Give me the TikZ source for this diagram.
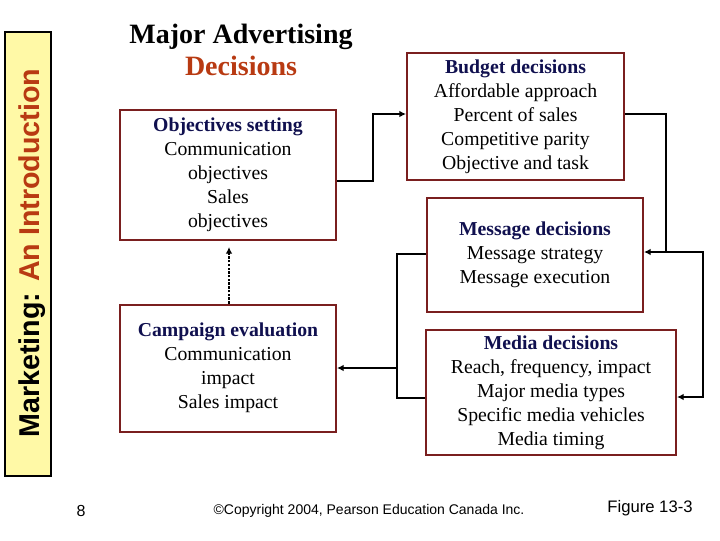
\documentclass[tikz,border=0pt]{standalone}
\usepackage{fontspec}
\setmainfont{Liberation Serif}
\newfontfamily\arial{Liberation Sans}
\usetikzlibrary{arrows.meta}
\definecolor{boxred}{HTML}{7A1F1F}
\definecolor{navy}{HTML}{10104F}
\definecolor{titlered}{HTML}{B83A12}
\definecolor{sideyellow}{HTML}{FFF9A6}
\tikzset{
  box/.style={draw=boxred,line width=1.5pt,align=center,inner sep=0pt,
    font=\fontsize{14.8}{18}\selectfont},
  conn/.style={line width=1.8pt,-{Latex[length=5pt,width=5pt]}},
  plain/.style={line width=1.8pt},
}
\newcommand{\hd}[1]{\textcolor{navy}{\textbf{#1}}}
\begin{document}
\begin{tikzpicture}[x=0.75pt,y=-0.75pt]
\useasboundingbox (0,0) rectangle (720,540);
% side panel
\node[draw=black,fill=sideyellow,line width=0.8pt,minimum width=46*0.75pt,minimum height=444*0.75pt,inner sep=0pt] (side) at (28,254) {};
\node[rotate=90,font=\arial\bfseries\fontsize{21.5}{24}\selectfont] (sidetxt) at (32,253) {Marketing: \textcolor{titlered}{An Introduction}};
% title
\node[align=center,font=\bfseries\fontsize{21}{24.5}\selectfont] (title) at (241,50) {Major Advertising\\\textcolor{titlered}{Decisions}};
% boxes
\node[box,minimum width=216*0.75pt,minimum height=130*0.75pt] (obj) at (228,175)
 {\hd{Objectives setting}\\Communication\\objectives\\Sales\\objectives};
\node[box,minimum width=216*0.75pt,minimum height=127*0.75pt] (camp) at (228,368)
 {\hd{Campaign evaluation}\\Communication\\impact\\Sales impact};
\node[box,minimum width=217*0.75pt,minimum height=127*0.75pt] (bud) at (515.5,116.5)
 {\hd{Budget decisions}\\Affordable approach\\Percent of sales\\Competitive parity\\Objective and task};
\node[box,minimum width=216*0.75pt,minimum height=114*0.75pt] (msg) at (535,255)
 {\hd{Message decisions}\\Message strategy\\Message execution};
\node[box,minimum width=250*0.75pt,minimum height=125*0.75pt] (med) at (551,392.5)
 {\hd{Media decisions}\\Reach, frequency, impact\\Major media types\\Specific media vehicles\\Media timing};
% connectors
\coordinate (a1) at (373,181);
\coordinate (a2) at (373,114);
\draw[conn] (obj.east |- a1) -- (a1) -- (a2) -- (bud.west |- a2);
\coordinate (b1) at (666,114);
\coordinate (b2) at (666,252);
\coordinate (b3) at (703,252);
\coordinate (b4) at (703,397);
\draw[conn] (bud.east |- b1) -- (b1) -- (b2) -- (msg.east |- b2);
\draw[conn] (b2) -- (b3) -- (b4) -- (med.east |- b4);
\coordinate (c1) at (397,254);
\coordinate (c2) at (397,398);
\coordinate (c3) at (397,368);
\draw[plain] (msg.west |- c1) -- (c1) -- (c2) -- (med.west |- c2);
\draw[conn] (c3) -- (camp.east |- c3);
\draw[line width=1.8pt,densely dotted,-{Latex[length=5pt,width=5pt]}] (camp.north -| 229,0) -- (229,247);
% footer
\node[font=\arial\fontsize{12}{13}\selectfont] (pg) at (81,511) {8};
\node[font=\arial\fontsize{10.5}{12}\selectfont] (copy) at (369,511) {©Copyright 2004, Pearson Education Canada Inc.};
\node[font=\arial\fontsize{12.5}{13}\selectfont] (fig) at (650,508) {Figure 13-3};
\end{tikzpicture}
\end{document}
